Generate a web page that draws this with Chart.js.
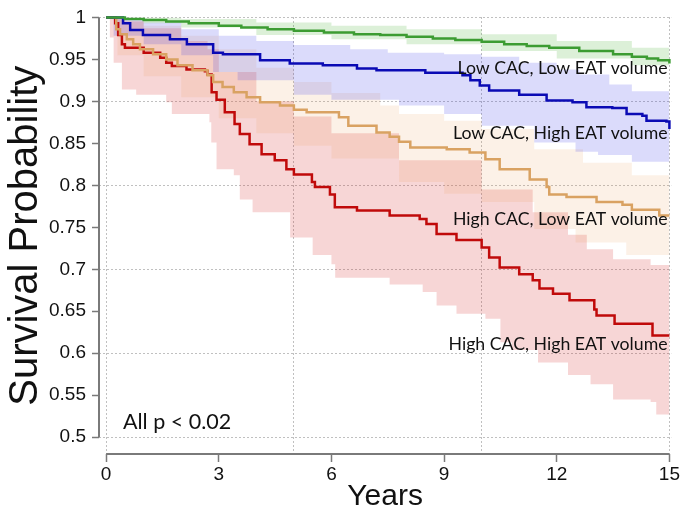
<!DOCTYPE html>
<html>
<head>
<title>Survival</title>
<script src="https://cdn.jsdelivr.net/npm/chart.js"></script>
<style>
  body { margin: 0; background: #fff; }
</style>
</head>
<body>
<canvas id="survivalChart" width="681" height="515"></canvas>
<script>
// tick values
const xTicks = [0, 3, 6, 9, 12, 15];
const xGrid = [0, 5, 10, 15];
const yTicks = [1, 0.95, 0.9, 0.85, 0.8, 0.75, 0.7, 0.65, 0.6, 0.55, 0.5];

// Kaplan-Meier curves, [years, survival]
const greenLine = [[0,1],[0.5,0.998],[1,0.997],[1.6,0.995],[2.2,0.993],[3,0.99],[3.6,0.988],[4.3,0.986],[5,0.984],[5.8,0.982],[6.6,0.98],[7.3,0.979],[8,0.977],[8.7,0.975],[9.3,0.973],[10,0.971],[10.6,0.968],[11.2,0.966],[11.8,0.964],[12.6,0.96],[13.5,0.956],[14,0.953],[14.4,0.951],[14.7,0.949],[15,0.945]];
const greenUpper = [[0,1],[2,0.998],[4,0.994],[6,0.99],[8,0.986],[10,0.98],[12,0.972],[14,0.964],[15,0.955]];
const greenLower = [[0,1],[1,0.993],[2,0.988],[4,0.979],[6,0.974],[8,0.968],[10,0.96],[12,0.951],[14,0.943],[15,0.938]];

const blueLine = [[0,1],[0.45,0.993],[0.64,0.985],[0.98,0.979],[1.7,0.974],[2.15,0.968],[2.85,0.958],[3.11,0.956],[4.1,0.949],[4.89,0.945],[5.77,0.943],[6.68,0.939],[7.2,0.937],[8.5,0.934],[9.49,0.931],[9.7,0.925],[9.95,0.919],[10.2,0.913],[11,0.908],[11.73,0.901],[12.42,0.899],[12.79,0.893],[13.48,0.892],[13.86,0.885],[14.28,0.883],[14.39,0.877],[14.92,0.876],[15,0.867]];
const blueUpper = [[0,1],[0.5,0.998],[1,0.994],[2,0.986],[3,0.978],[4,0.972],[5,0.967],[6.5,0.962],[7.5,0.958],[9,0.956],[10,0.953],[11,0.946],[12,0.938],[12.6,0.932],[13.4,0.92],[14,0.912],[15,0.91]];
const blueLower = [[0,1],[0.2,0.978],[1,0.968],[2,0.955],[2.85,0.935],[3.5,0.925],[5,0.908],[6,0.902],[7.8,0.895],[9,0.885],[10,0.871],[11.4,0.851],[12.5,0.84],[13.1,0.836],[14,0.828],[15,0.819]];

const orangeLine = [[0,1],[0.27,0.986],[0.37,0.98],[0.55,0.974],[0.72,0.968],[0.9,0.962],[1.25,0.956],[1.6,0.95],[1.9,0.943],[2.3,0.937],[2.7,0.931],[2.85,0.923],[3.1,0.917],[3.4,0.911],[3.74,0.905],[4.1,0.899],[4.63,0.895],[5,0.89],[5.34,0.887],[6.2,0.881],[6.45,0.871],[7.2,0.863],[7.55,0.858],[7.8,0.852],[8.1,0.845],[9.07,0.843],[9.68,0.839],[10.1,0.831],[10.48,0.819],[11.28,0.807],[11.73,0.798],[11.8,0.789],[12.26,0.786],[13.06,0.78],[13.75,0.777],[14,0.771],[14.73,0.764],[15,0.764]];
const orangeUpper = [[0,1],[0.5,0.996],[1,0.99],[2,0.978],[3,0.962],[4,0.94],[5,0.923],[6,0.91],[7.3,0.895],[7.8,0.885],[9,0.877],[10,0.867],[11.4,0.843],[12.7,0.827],[14,0.812],[15,0.81]];
const orangeLower = [[0,1],[0.3,0.955],[1,0.93],[2,0.905],[3,0.88],[4,0.862],[5,0.847],[6,0.832],[7.8,0.804],[9,0.79],[10,0.78],[11.4,0.748],[12.5,0.732],[13.85,0.717],[15,0.705]];

const redLine = [[0,1],[0.24,0.993],[0.32,0.979],[0.42,0.968],[0.5,0.964],[1,0.958],[1.44,0.952],[1.6,0.946],[1.75,0.942],[2.14,0.938],[2.63,0.936],[2.7,0.932],[2.81,0.911],[2.94,0.902],[3.16,0.887],[3.42,0.873],[3.56,0.861],[3.82,0.849],[4.14,0.837],[4.49,0.83],[4.8,0.819],[5,0.813],[5.48,0.804],[5.56,0.798],[5.96,0.789],[6.09,0.774],[6.68,0.77],[7.55,0.764],[8.35,0.76],[8.53,0.754],[8.8,0.742],[9.33,0.735],[10,0.726],[10.2,0.714],[10.48,0.702],[11,0.694],[11.36,0.687],[11.54,0.677],[11.9,0.671],[12.34,0.663],[13,0.652],[13.06,0.645],[13.54,0.635],[14.55,0.621],[15,0.621]];
const redUpper = [[0,1],[0.5,0.995],[1,0.987],[2,0.972],[2.7,0.962],[3,0.935],[4,0.9],[5,0.882],[6,0.862],[7.8,0.83],[10,0.795],[11.36,0.768],[12.3,0.741],[12.8,0.724],[13.5,0.712],[14.5,0.705],[15,0.7]];
const redLower = [[0,1],[0.1,0.976],[0.2,0.946],[0.42,0.914],[0.8,0.908],[1.6,0.899],[1.75,0.885],[2.75,0.875],[2.8,0.851],[2.94,0.819],[3.4,0.812],[3.56,0.783],[3.9,0.768],[4.9,0.738],[5.5,0.717],[6,0.706],[6.1,0.69],[7.55,0.682],[8.43,0.673],[8.8,0.657],[9.33,0.647],[10.1,0.641],[10.5,0.613],[10.8,0.604],[11.5,0.589],[12.3,0.574],[12.9,0.563],[13.5,0.545],[14.5,0.542],[14.65,0.527],[15,0.527]];

// curve labels
const curveLabels = ['Low CAC, Low EAT volume', 'Low CAC, High EAT volume', 'High CAC, Low EAT volume', 'High CAC, High EAT volume'];
const curveLabelY = [0.939, 0.862, 0.76, 0.611];

const toXY = arr => arr.map(p => ({ x: p[0], y: p[1] }));

function group(line, upper, lower, lineColor, bandColor) {
    return [
        { data: toXY(upper), stepped: true, borderWidth: 0, pointRadius: 0, fill: '+1', backgroundColor: bandColor, order: 2 },
        { data: toXY(lower), stepped: true, borderWidth: 0, pointRadius: 0, fill: false, order: 2 },
        { data: toXY(line), stepped: true, borderWidth: 2.5, borderColor: lineColor, pointRadius: 0, fill: false, order: 1, clip: 4 }
    ];
}

const is01 = v => Math.abs(v * 10 - Math.round(v * 10)) < 1e-6;

// axis lines that stop at the first and last tick, plus text labels
const extrasPlugin = {
    id: 'extras',
    afterDraw(chart) {
        const ctx = chart.ctx;
        const x = chart.scales.x, y = chart.scales.y;
        ctx.save();
        ctx.strokeStyle = '#7a7a7a';
        ctx.lineWidth = 2;
        ctx.beginPath();
        ctx.moveTo(chart.chartArea.left, y.getPixelForValue(1));
        ctx.lineTo(chart.chartArea.left, y.getPixelForValue(0.5));
        ctx.moveTo(x.getPixelForValue(0), chart.chartArea.bottom);
        ctx.lineTo(x.getPixelForValue(15), chart.chartArea.bottom);
        ctx.stroke();

        ctx.fillStyle = '#111';
        ctx.font = '17.7px Lato, "Open Sans", sans-serif';
        ctx.textAlign = 'right';
        ctx.textBaseline = 'middle';
        curveLabels.forEach((t, i) => {
            ctx.fillText(t, x.getPixelForValue(14.95), y.getPixelForValue(curveLabelY[i]));
        });
        ctx.textAlign = 'left';
        ctx.font = '21.5px Lato, "Open Sans", sans-serif';
        ctx.fillText('All p < 0.02', x.getPixelForValue(0.45), y.getPixelForValue(0.518));
        ctx.restore();
    }
};

const tickFont = { family: '"Liberation Sans Narrow", "Liberation Sans", Arial', size: 19 };
const gridDot = 'rgba(150,150,150,0.6)';

new Chart(document.getElementById('survivalChart').getContext('2d'), {
    type: 'line',
    data: {
        datasets: [
            ...group(greenLine, greenUpper, greenLower, '#3c9c32', 'rgba(60,170,40,0.18)'),
            ...group(blueLine, blueUpper, blueLower, '#0a0ab4', 'rgba(40,40,230,0.17)'),
            ...group(orangeLine, orangeUpper, orangeLower, '#d9a262', 'rgba(230,150,70,0.13)'),
            ...group(redLine, redUpper, redLower, '#c00a0a', 'rgba(210,30,30,0.18)')
        ]
    },
    options: {
        responsive: false,
        animation: false,
        layout: { padding: { top: 0, right: 9, left: 0, bottom: 0 } },
        plugins: { legend: { display: false }, tooltip: { enabled: false } },
        scales: {
            x: {
                type: 'linear',
                min: -0.19,
                max: 15.05,
                afterBuildTicks: s => { s.ticks = xTicks.map(v => ({ value: v })); },
                afterFit: s => { s.height = 61; },
                border: { display: false },
                grid: { drawOnChartArea: false, tickLength: 8, tickColor: '#7a7a7a', tickWidth: 1.5 },
                ticks: { font: tickFont, color: '#111', padding: 1, maxRotation: 0 },
                title: { display: true, text: 'Years', font: { family: '"Liberation Sans", Arial', size: 30 }, color: '#111', padding: { top: -3, bottom: 0 } }
            },
            xg: {
                type: 'linear',
                position: 'top',
                min: -0.19,
                max: 15.05,
                afterBuildTicks: s => { s.ticks = xGrid.map(v => ({ value: v })); },
                afterFit: s => { s.height = 0; },
                border: { display: false, dash: [2, 2] },
                ticks: { display: false },
                grid: { drawTicks: false, color: gridDot, lineWidth: 1 }
            },
            y: {
                min: 0.48,
                max: 1.0,
                afterBuildTicks: s => { s.ticks = yTicks.map(v => ({ value: v })); },
                afterFit: s => { s.width = 99; },
                border: { display: false, dash: [2, 2] },
                grid: {
                    color: c => (c.tick && is01(c.tick.value)) ? gridDot : 'rgba(0,0,0,0)',
                    lineWidth: 1,
                    tickLength: 7,
                    tickColor: '#7a7a7a',
                    tickWidth: 1.5,
                    tickBorderDash: []
                },
                ticks: { font: tickFont, color: '#111', padding: 6, callback: v => String(+Number(v).toFixed(2)) },
                title: { display: true, text: 'Survival Probability', font: { family: '"Liberation Sans", Arial', size: 40 }, color: '#111', padding: { top: 2, bottom: 0 } }
            }
        }
    },
    plugins: [extrasPlugin]
});
</script>
</body>
</html>
